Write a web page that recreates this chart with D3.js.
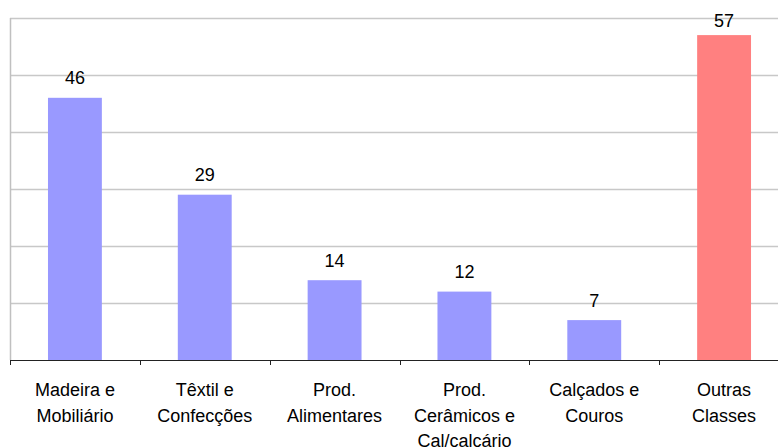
<!DOCTYPE html>
<html><head><meta charset="utf-8">
<script src="https://cdn.jsdelivr.net/npm/d3@7"></script>
<style>body{margin:0;background:#fff}svg{display:block}text{font-family:"Liberation Sans",Arial,sans-serif}</style>
</head><body>
<svg id="c" width="778" height="448"></svg>
<script>
const categories = [["Madeira e","Mobiliário"],["Têxtil e","Confecções"],["Prod.","Alimentares"],["Prod.","Cerâmicos e","Cal/calcário"],["Calçados e","Couros"],["Outras","Classes"]];
const values = [46,29,14,12,7,57];
const colors = ["#9999FF","#9999FF","#9999FF","#9999FF","#9999FF","#FF8080"];
const yTicks = [10,20,30,40,50,60];

(function(){
const svg = d3.select("#c");
const mL = 10, mR = 789, mT = 18, mB = 360;
const x = d3.scaleBand().domain(d3.range(values.length)).range([mL,mR]).paddingInner(0).paddingOuter(0);
const y = d3.scaleLinear().domain([0,60]).range([mB,mT]);
const bw = x.bandwidth()*0.415;
const fs = 18;

svg.append("g").selectAll("line").data(yTicks).join("line")
  .attr("x1",mL).attr("x2",778).attr("y1",d=>Math.round(y(d))+0.5).attr("y2",d=>Math.round(y(d))+0.5)
  .attr("stroke","#c8c8c8").attr("stroke-width",1.5);

svg.append("line").attr("x1",mL+0.5).attr("x2",mL+0.5).attr("y1",mT).attr("y2",mB)
  .attr("stroke","#c0c0c0").attr("stroke-width",1.5);

svg.append("g").selectAll("rect").data(values).join("rect")
  .attr("x",(d,i)=>x(i)+x.bandwidth()/2-bw/2).attr("width",bw)
  .attr("y",d=>y(d)).attr("height",d=>mB-y(d)).attr("fill",(d,i)=>colors[i]);

svg.append("g").selectAll("text").data(values).join("text")
  .attr("x",(d,i)=>x(i)+x.bandwidth()/2).attr("y",d=>Math.max(y(d)-13.5,27))
  .attr("text-anchor","middle").attr("font-size",fs).attr("fill","#000").text(d=>d);

svg.append("line").attr("x1",mL).attr("x2",778).attr("y1",mB+0.5).attr("y2",mB+0.5).attr("stroke","#222").attr("stroke-width",1.2);
svg.append("g").selectAll("line").data(d3.range(values.length+1)).join("line")
  .attr("x1",i=>Math.round(mL+i*x.step())+0.5).attr("x2",i=>Math.round(mL+i*x.step())+0.5)
  .attr("y1",mB).attr("y2",mB+5).attr("stroke","#222");

const lab = svg.append("g").selectAll("text").data(categories).join("text")
  .attr("text-anchor","middle").attr("font-size",fs).attr("fill","#000");
lab.each(function(lines,i){
  d3.select(this).selectAll("tspan").data(lines).join("tspan")
    .attr("x",x(i)+x.bandwidth()/2).attr("y",(d,j)=>396+j*25.5).text(d=>d);
});
})();
</script>
</body></html>
